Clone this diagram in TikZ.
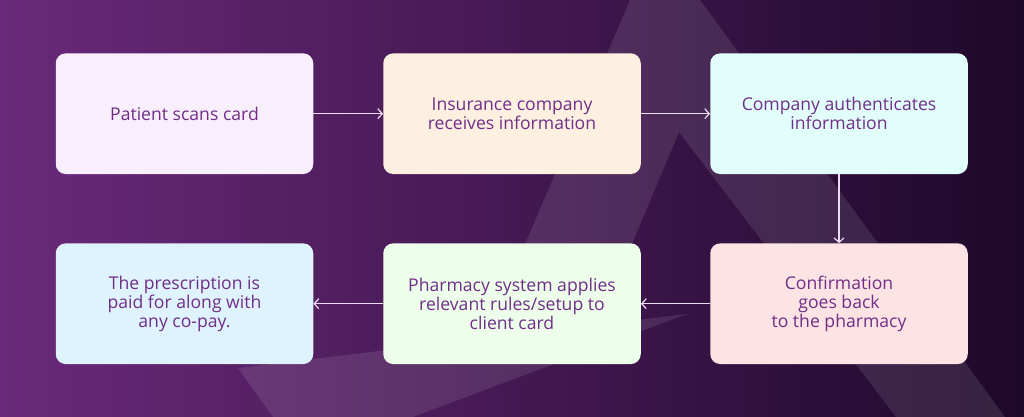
\documentclass[tikz,border=0pt]{standalone}
\usepackage{fontspec}
\setmainfont{Open Sans}
\usetikzlibrary{arrows.meta}
\definecolor{bgL}{RGB}{106,41,122}
\definecolor{bgR}{RGB}{30,8,42}
\definecolor{txt}{RGB}{112,46,136}
\definecolor{arr}{RGB}{236,222,242}
\definecolor{cA}{HTML}{F9EEFC}
\definecolor{cB}{HTML}{FEF0E0}
\definecolor{cC}{HTML}{E1FEFB}
\definecolor{cD}{HTML}{FDE3E3}
\definecolor{cE}{HTML}{EDFEEA}
\definecolor{cF}{HTML}{DFF3FE}
\tikzset{
  stepbox/.style={rounded corners=10pt, minimum width=257.5pt, minimum height=120.7pt,
    inner sep=0pt, align=center, text=txt, font=\fontsize{17.6}{19}\selectfont},
  flow/.style={draw=arr, line width=1.2pt, -{Straight Barb[length=4.5pt,width=10pt,line width=1.2pt]}}
}
\begin{document}
\begin{tikzpicture}[x=1pt,y=-1pt]
\useasboundingbox (0,0) rectangle (1024,417);
\shade[left color=bgL,right color=bgR] (0,0) rectangle (1024,417);
\begin{scope}
\clip (0,0) rectangle (1024,417);
\fill[white,opacity=0.1] (238,368) -- (484.5,338.3) -- (656,-60.3) -- (1005,417) -- (896,417)
  -- (679,132) -- (598.1,324.7) -- (687,314) -- (413,417) -- (273,417) -- cycle;
\end{scope}
\node[stepbox, fill=cA] (b1) at (184.5,113.7) {Patient scans card};
\node[stepbox, fill=cB] (b2) at (512,113.7) {Insurance company\\receives information};
\node[stepbox, fill=cC] (b3) at (839,113.7) {Company authenticates\\information};
\node[stepbox, fill=cD] (b4) at (839,303.7) {Confirmation\\goes back\\to the pharmacy};
\node[stepbox, fill=cE] (b5) at (512,303.7) {Pharmacy system applies\\relevant rules/setup to\\client card};
\node[stepbox, fill=cF] (b6) at (184.5,303.7) {The prescription is\\paid for along with\\any co-pay.};
\draw[flow] (b1) -- (b2);
\draw[flow] (b2) -- (b3);
\draw[flow] (b3) -- (b4);
\draw[flow] (b4) -- (b5);
\draw[flow] (b5) -- (b6);
\end{tikzpicture}
\end{document}
